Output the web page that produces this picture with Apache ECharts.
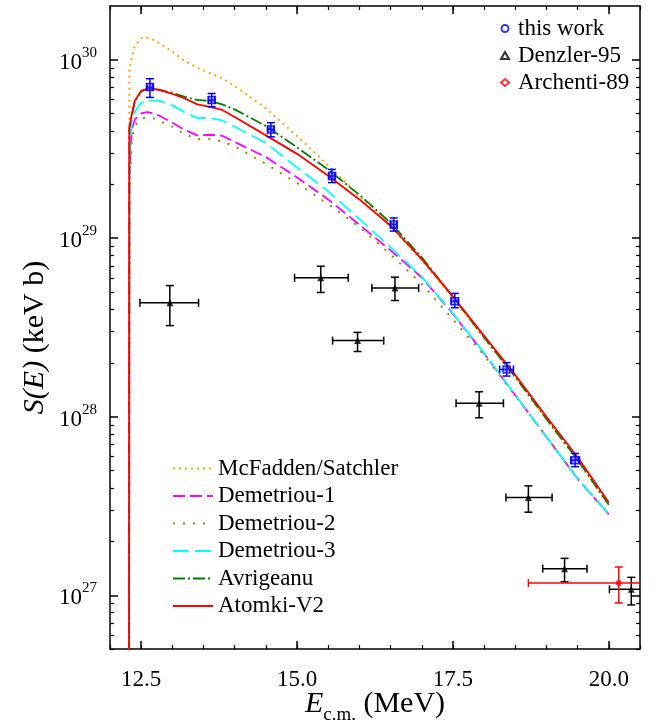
<!DOCTYPE html>
<html>
<head>
<meta charset="utf-8">
<script src="https://cdn.jsdelivr.net/npm/echarts@6/dist/echarts.min.js"></script>
<style>
html, body { margin: 0; padding: 0; background: #fff; }
#chart { width: 659px; height: 726px; }
</style>
</head>
<body>
<div id="chart"></div>
<script>
// energy grid of the model curves (MeV)
var eCurve = [12.305, 12.31, 12.35, 12.4, 12.5, 12.6, 12.7, 12.8, 13.0, 13.2, 13.4, 13.6, 13.8, 14.0,
              14.5, 15.0, 15.5, 16.0, 16.5, 17.0, 17.5, 18.0, 18.5, 19.0, 19.5, 20.0];
// S(E) of the models (keV b)
var sMcFadden = [1e26, 8.82e29, 1.03e30, 1.20e30, 1.325e30, 1.33e30, 1.29e30, 1.23e30, 1.11e30, 9.85e29, 9.00e29, 8.43e29, 7.86e29, 7.13e29,
                 5.34e29, 3.74e29, 2.56e29, 1.72e29, 1.165e29, 7.51e28, 4.60e28, 2.76e28, 1.67e28, 9.66e27, 5.69e27, 3.18e27];
var sDem1 = [1e26, 2.28e29, 4.07e29, 4.63e29, 5.00e29, 5.09e29, 5.00e29, 4.84e29, 4.44e29, 4.04e29, 3.77e29, 3.80e29, 3.75e29, 3.46e29,
             2.85e29, 2.19e29, 1.65e29, 1.19e29, 8.55e28, 6.03e28, 3.77e28, 2.26e28, 1.32e28, 7.71e27, 4.49e27, 2.84e27];
var sDem2 = [1e26, 1.88e29, 3.58e29, 4.28e29, 4.69e29, 4.75e29, 4.69e29, 4.54e29, 4.21e29, 3.82e29, 3.60e29, 3.60e29, 3.49e29, 3.27e29,
             2.61e29, 2.04e29, 1.55e29, 1.157e29, 8.11e28, 5.55e28, 3.51e28, 2.21e28, 1.31e28, 7.71e27, 4.51e27, 2.87e27];
var sDem3 = [1e26, 2.76e29, 4.51e29, 5.13e29, 5.73e29, 5.88e29, 5.92e29, 5.88e29, 5.55e29, 5.07e29, 4.71e29, 4.72e29, 4.57e29, 4.21e29,
             3.42e29, 2.49e29, 1.83e29, 1.28e29, 8.9e28, 6.09e28, 3.79e28, 2.28e28, 1.325e28, 7.73e27, 4.49e27, 2.85e27];
var sAvrig = [1e26, 4.10e29, 4.90e29, 5.84e29, 6.65e29, 6.86e29, 6.86e29, 6.77e29, 6.52e29, 6.19e29, 5.95e29, 5.88e29, 5.62e29, 5.27e29,
              4.25e29, 3.23e29, 2.42e29, 1.75e29, 1.22e29, 7.81e28, 4.69e28, 2.78e28, 1.67e28, 9.72e27, 5.73e27, 3.21e27];
var sAtomki = [1e26, 4.18e29, 4.94e29, 5.92e29, 6.69e29, 6.86e29, 6.86e29, 6.75e29, 6.43e29, 6.07e29, 5.62e29, 5.44e29, 5.23e29, 4.78e29,
               3.77e29, 2.97e29, 2.24e29, 1.65e29, 1.175e29, 7.64e28, 4.72e28, 2.84e28, 1.715e28, 1.00e28, 5.93e27, 3.31e27];

// this work
var twE = [12.64, 13.63, 14.58, 15.56, 16.55, 17.53, 18.36, 19.46];
var twDE = [0.05, 0.05, 0.05, 0.05, 0.05, 0.06, 0.11, 0.07];
var twS = [7.03e29, 5.94e29, 4.07e29, 2.23e29, 1.195e29, 4.44e28, 1.84e28, 5.71e27];
var twSlo = [6.15e29, 5.45e29, 3.70e29, 2.05e29, 1.096e29, 4.08e28, 1.69e28, 5.25e27];
var twShi = [7.83e29, 6.47e29, 4.44e29, 2.43e29, 1.30e29, 4.91e28, 2.01e28, 6.23e27];

// Denzler-95
var dzE = [12.96, 15.38, 15.97, 16.57, 17.92, 18.71, 19.29, 20.36];
var dzElo = [12.48, 14.96, 15.57, 16.20, 17.55, 18.35, 18.94, 20.01];
var dzEhi = [13.42, 15.82, 16.39, 16.95, 18.31, 19.09, 19.65, 20.71];
var dzS = [4.35e28, 6.0e28, 2.67e28, 5.27e28, 1.19e28, 3.53e27, 1.41e27, 1.08e27];
var dzSlo = [3.24e28, 4.97e28, 2.32e28, 4.48e28, 9.87e27, 2.92e27, 1.19e27, 8.83e26];
var dzShi = [5.43e28, 6.97e28, 2.97e28, 6.05e28, 1.38e28, 4.10e27, 1.61e27, 1.26e27];

// Archenti-89
var arE = [20.16];
var arElo = [18.71];
var arEhi = [21.61];
var arS = [1.17e27];
var arSlo = [9.06e26];
var arShi = [1.44e27];

var xMajor = [12.5, 15.0, 17.5, 20.0];
var yMajor = [1e27, 1e28, 1e29, 1e30];

var serif = 'Liberation Serif';

var yMinor = [];
[26, 27, 28, 29].forEach(function (p) {
    for (var k = 2; k <= 9; k++) yMinor.push(k * Math.pow(10, p));
});

function pairs(xs, ys) {
    return xs.map(function (x, i) { return [x, ys[i]]; });
}

function errRows(x, xlo, xhi, y, ylo, yhi) {
    return x.map(function (v, i) { return [v, y[i], xlo[i], xhi[i], ylo[i], yhi[i]]; });
}

function errBars(color, cap) {
    return function (params, api) {
        var c = api.coord([api.value(0), api.value(1)]);
        var l = api.coord([api.value(2), api.value(1)]);
        var r = api.coord([api.value(3), api.value(1)]);
        var b = api.coord([api.value(0), api.value(4)]);
        var t = api.coord([api.value(0), api.value(5)]);
        var st = { stroke: color, lineWidth: 1.5 };
        function seg(x1, y1, x2, y2) {
            return { type: 'line', shape: { x1: x1, y1: y1, x2: x2, y2: y2 }, style: st };
        }
        return {
            type: 'group',
            children: [
                seg(l[0], c[1], r[0], c[1]),
                seg(l[0], c[1] - cap, l[0], c[1] + cap),
                seg(r[0], c[1] - cap, r[0], c[1] + cap),
                seg(c[0], b[1], c[0], t[1]),
                seg(c[0] - cap, b[1], c[0] + cap, b[1]),
                seg(c[0] - cap, t[1], c[0] + cap, t[1])
            ]
        };
    };
}

function curve(name, ys, color, dash, width) {
    return {
        name: name,
        type: 'line',
        data: pairs(eCurve, ys),
        symbol: 'none',
        color: color,
        lineStyle: { color: color, width: width, type: dash },
        z: 2
    };
}

function xAx(pos, major) {
    return {
        type: 'value', position: pos, min: 12, max: 20.5, interval: 0.5,
        axisLine: { show: !major, lineStyle: { color: '#000', width: 1.5 } },
        axisTick: major
            ? { inside: true, length: 8, customValues: xMajor, lineStyle: { color: '#000', width: 1.5 } }
            : { inside: true, length: 4, lineStyle: { color: '#000', width: 1.2 } },
        axisLabel: { show: false },
        splitLine: { show: false }
    };
}

function yAx(pos, major) {
    return {
        type: 'log', logBase: 10, position: pos, min: 5e26, max: 2e30,
        axisLine: { show: !major, lineStyle: { color: '#000', width: 1.5 } },
        axisTick: major
            ? { inside: true, length: 8, customValues: yMajor, lineStyle: { color: '#000', width: 1.5 } }
            : { inside: true, length: 4, customValues: yMinor, lineStyle: { color: '#000', width: 1.2 } },
        axisLabel: { show: false },
        splitLine: { show: false }
    };
}

var xAxes = [xAx('bottom', false), xAx('bottom', true), xAx('top', false), xAx('top', true)];
xAxes[0].axisLabel = {
    show: true, customValues: xMajor, margin: 19,
    fontFamily: serif, fontSize: 23, color: '#000',
    formatter: function (v) { return Number(v).toFixed(1); }
};
xAxes[0].name = '{it|E}{sub|c.m.}{n| (MeV)}';
xAxes[0].nameLocation = 'middle';
xAxes[0].nameGap = 40;
xAxes[0].nameMoveOverlap = false;
xAxes[0].nameTextStyle = {
    fontFamily: serif, fontSize: 30, color: '#000',
    rich: {
        it: { fontFamily: serif, fontSize: 30, fontStyle: 'italic', lineHeight: 30, verticalAlign: 'top' },
        sub: { fontFamily: serif, fontSize: 19, lineHeight: 36, verticalAlign: 'bottom' },
        n: { fontFamily: serif, fontSize: 30, lineHeight: 30, verticalAlign: 'top' }
    }
};

var yAxes = [yAx('left', false), yAx('left', true), yAx('right', false), yAx('right', true)];
yAxes[0].axisLabel = {
    show: true, customValues: yMajor, margin: 13,
    formatter: function (v) { return '{b|10}{sup|' + Math.round(Math.log10(v)) + '}'; },
    rich: {
        b: { fontFamily: serif, fontSize: 23, color: '#000', lineHeight: 23, verticalAlign: 'bottom' },
        sup: { fontFamily: serif, fontSize: 15, color: '#000', lineHeight: 29, verticalAlign: 'top' }
    }
};
yAxes[0].name = '{it|S(E)} (keV b)';
yAxes[0].nameLocation = 'middle';
yAxes[0].nameGap = 60;
yAxes[0].nameMoveOverlap = false;
yAxes[0].nameTextStyle = {
    fontFamily: serif, fontSize: 30, color: '#000',
    padding: [0, 20, 0, 0],
    rich: { it: { fontFamily: serif, fontSize: 30, fontStyle: 'italic' } }
};

var legendText = { fontFamily: serif, fontSize: 23, color: '#000' };

var option = {
    animation: false,
    backgroundColor: '#fff',
    grid: { left: 110, right: 19, top: 6, bottom: 77, containLabel: false, outerBoundsMode: 'none' },
    xAxis: xAxes,
    yAxis: yAxes,
    legend: [
        {
            orient: 'vertical', left: 495, top: 12,
            itemWidth: 8, itemHeight: 7, itemGap: 4,
            textStyle: { fontFamily: serif, fontSize: 23, color: '#000', padding: [0, 0, 0, 4] },
            data: [
                { name: 'this work', icon: 'emptyCircle', itemStyle: { color: '#0000ff', borderColor: '#0000ff' } },
                { name: 'Denzler-95', icon: 'emptyTriangle' },
                { name: 'Archenti-89', icon: 'emptyDiamond' }
            ]
        },
        {
            orient: 'vertical', left: 167, top: 452,
            itemWidth: 40, itemHeight: 10, itemGap: 4.5,
            itemStyle: { opacity: 0 },
            textStyle: legendText,
            data: ['McFadden/Satchler', 'Demetriou-1', 'Demetriou-2', 'Demetriou-3', 'Avrigeanu', 'Atomki-V2']
        }
    ],
    series: [
        curve('McFadden/Satchler', sMcFadden, '#ffa500', [2, 4], 2),
        curve('Demetriou-1', sDem1, '#ff00ff', [12, 5], 1.8),
        curve('Demetriou-2', sDem2, '#8c8c00', [2, 8], 2),
        curve('Demetriou-3', sDem3, '#00ffff', [16, 6], 1.8),
        curve('Avrigeanu', sAvrig, '#008000', [12, 3, 2, 3], 1.8),
        curve('Atomki-V2', sAtomki, '#ff0000', 'solid', 1.8),
        {
            type: 'custom', clip: true, z: 3,
            renderItem: errBars('#0000ff', 4),
            encode: { x: 0, y: 1 },
            data: errRows(twE, twE.map(function (e, i) { return e - twDE[i]; }),
                          twE.map(function (e, i) { return e + twDE[i]; }), twS, twSlo, twShi)
        },
        {
            type: 'custom', clip: true, z: 3,
            renderItem: errBars('#000000', 4),
            encode: { x: 0, y: 1 },
            data: errRows(dzE, dzElo, dzEhi, dzS, dzSlo, dzShi)
        },
        {
            type: 'custom', clip: true, z: 3,
            renderItem: errBars('#ff0000', 4),
            encode: { x: 0, y: 1 },
            data: errRows(arE, arElo, arEhi, arS, arSlo, arShi)
        },
        {
            name: 'this work', type: 'scatter', z: 4, clip: true,
            symbol: 'rect', symbolSize: 7,
            itemStyle: { color: 'rgba(40,40,255,0.45)', borderColor: '#0000ff', borderWidth: 1.5 },
            data: pairs(twE, twS)
        },
        {
            name: 'Denzler-95', type: 'scatter', z: 4, clip: true,
            symbol: 'triangle', symbolSize: 7,
            itemStyle: { color: '#000' },
            data: pairs(dzE, dzS)
        },
        {
            name: 'Archenti-89', type: 'scatter', z: 4, clip: true,
            symbol: 'circle', symbolSize: 6,
            itemStyle: { color: '#ff0000' },
            data: pairs(arE, arS)
        }
    ]
};

var chart = echarts.init(document.getElementById('chart'));
chart.setOption(option);
</script>
</body>
</html>
